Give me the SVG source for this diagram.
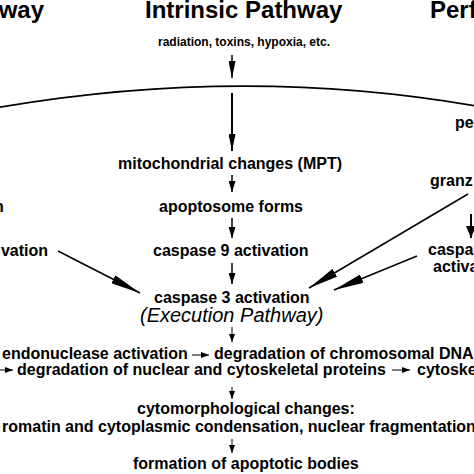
<svg xmlns="http://www.w3.org/2000/svg" width="474" height="474" viewBox="0 0 474 474">
<defs>
<style>
text{font-family:"Liberation Sans",Arial,sans-serif;fill:#000}
.t{font-size:24px;font-weight:bold}
.s{font-size:12px;font-weight:bold}
.b{font-size:16px;font-weight:bold}
.i{font-size:20px;font-style:italic}
.ln{stroke:#000;fill:none}
</style>
<marker id="ahS" markerUnits="userSpaceOnUse" markerWidth="8" markerHeight="6" refX="8" refY="3" orient="auto"><path d="M0,0 L8,3 L0,6 z"/></marker>
<marker id="ahM" markerUnits="userSpaceOnUse" markerWidth="11" markerHeight="7" refX="11" refY="3.5" orient="auto"><path d="M0,0 L11,3.5 L0,7 z"/></marker>
<marker id="ahT" markerUnits="userSpaceOnUse" markerWidth="17" markerHeight="7" refX="17" refY="3.5" orient="auto"><path d="M0,0 L17,3.5 L0,7 z"/></marker>
<marker id="ahL" markerUnits="userSpaceOnUse" markerWidth="30" markerHeight="9" refX="30" refY="4.5" orient="auto"><path d="M0,0 L30,4.5 L0,9 z"/></marker>
<marker id="ahW" markerUnits="userSpaceOnUse" markerWidth="12" markerHeight="10" refX="12" refY="5" orient="auto"><path d="M0,0 L12,5 L0,10 z"/></marker>
</defs>
<rect width="474" height="474" fill="#fff"/>
<g id="headers">
<text class="t" x="44" y="18" text-anchor="end">way</text>
<text class="t" x="145" y="18">Intrinsic Pathway</text>
<text class="t" x="430" y="18">Perf</text>
</g>
<g id="membrane"><path class="ln" stroke-width="1.6" d="M-2,107.5 Q243,65.5 476,106"/></g>
<g id="n-stimuli"><text class="s" x="158" y="46">radiation, toxins, hypoxia, etc.</text></g>
<g id="n-mito"><text class="b" x="118" y="169">mitochondrial changes (MPT)</text></g>
<g id="n-apopt"><text class="b" x="159" y="212">apoptosome forms</text></g>
<g id="n-casp9"><text class="b" x="153" y="256">caspase 9 activation</text></g>
<g id="n-casp3"><text class="b" x="154" y="303">caspase 3 activation</text><text class="i" x="140" y="322">(Execution Pathway)</text></g>
<g id="n-left1"><text class="b" x="-6" y="212">n</text></g>
<g id="n-left2"><text class="b" x="48" y="256" text-anchor="end">vation</text></g>
<g id="n-perf"><text class="b" x="455" y="128">pe</text></g>
<g id="n-granz"><text class="b" x="430" y="186">granz</text></g>
<g id="n-rcasp"><text class="b" x="428" y="255">caspa</text><text class="b" x="433" y="272">activa</text></g>
<g id="n-endo"><text class="b" x="2" y="359">endonuclease activation</text></g>
<g id="n-dna"><text class="b" x="214" y="359">degradation of chromosomal DNA</text></g>
<g id="n-prot"><text class="b" x="17" y="375">degradation of nuclear and cytoskeletal proteins</text></g>
<g id="n-cytosk"><text class="b" x="417" y="375">cytoske</text></g>
<g id="n-morph"><text class="b" x="137" y="414">cytomorphological changes:</text><text class="b" x="2" y="432">romatin and cytoplasmic condensation, nuclear fragmentation</text></g>
<g id="n-bodies"><text class="b" x="133" y="469">formation of apoptotic bodies</text></g>
<g id="connectors" class="ln">
<line x1="232" y1="55" x2="232" y2="78" stroke-width="1.5" marker-end="url(#ahT)"/>
<line x1="232" y1="93" x2="232" y2="151" stroke-width="2" marker-end="url(#ahT)"/>
<line x1="232" y1="175" x2="232" y2="192" stroke-width="1.5" marker-end="url(#ahM)"/>
<line x1="232" y1="218" x2="232" y2="238" stroke-width="1.5" marker-end="url(#ahM)"/>
<line x1="232" y1="263" x2="232" y2="284" stroke-width="1.5" marker-end="url(#ahM)"/>
<line x1="232" y1="327" x2="232" y2="342" stroke-width="1" marker-end="url(#ahS)"/>
<line x1="192" y1="355" x2="209" y2="355" stroke-width="1" marker-end="url(#ahS)"/>
<line x1="0" y1="370" x2="13" y2="370" stroke-width="1" marker-end="url(#ahS)"/>
<line x1="392" y1="370" x2="410" y2="370" stroke-width="1" marker-end="url(#ahS)"/>
<line x1="232" y1="387" x2="232" y2="399" stroke-width="1" marker-end="url(#ahS)"/>
<line x1="232" y1="439" x2="232" y2="453" stroke-width="1" marker-end="url(#ahS)"/>
<line x1="58" y1="251" x2="140" y2="293" stroke-width="1.5" marker-end="url(#ahL)"/>
<line x1="468" y1="194" x2="309" y2="288" stroke-width="1.5" marker-end="url(#ahL)"/>
<line x1="417" y1="256" x2="334" y2="290" stroke-width="1.5" marker-end="url(#ahL)"/>
<line x1="471" y1="214" x2="471" y2="238" stroke-width="2" marker-end="url(#ahW)"/>
</g>
</svg>
